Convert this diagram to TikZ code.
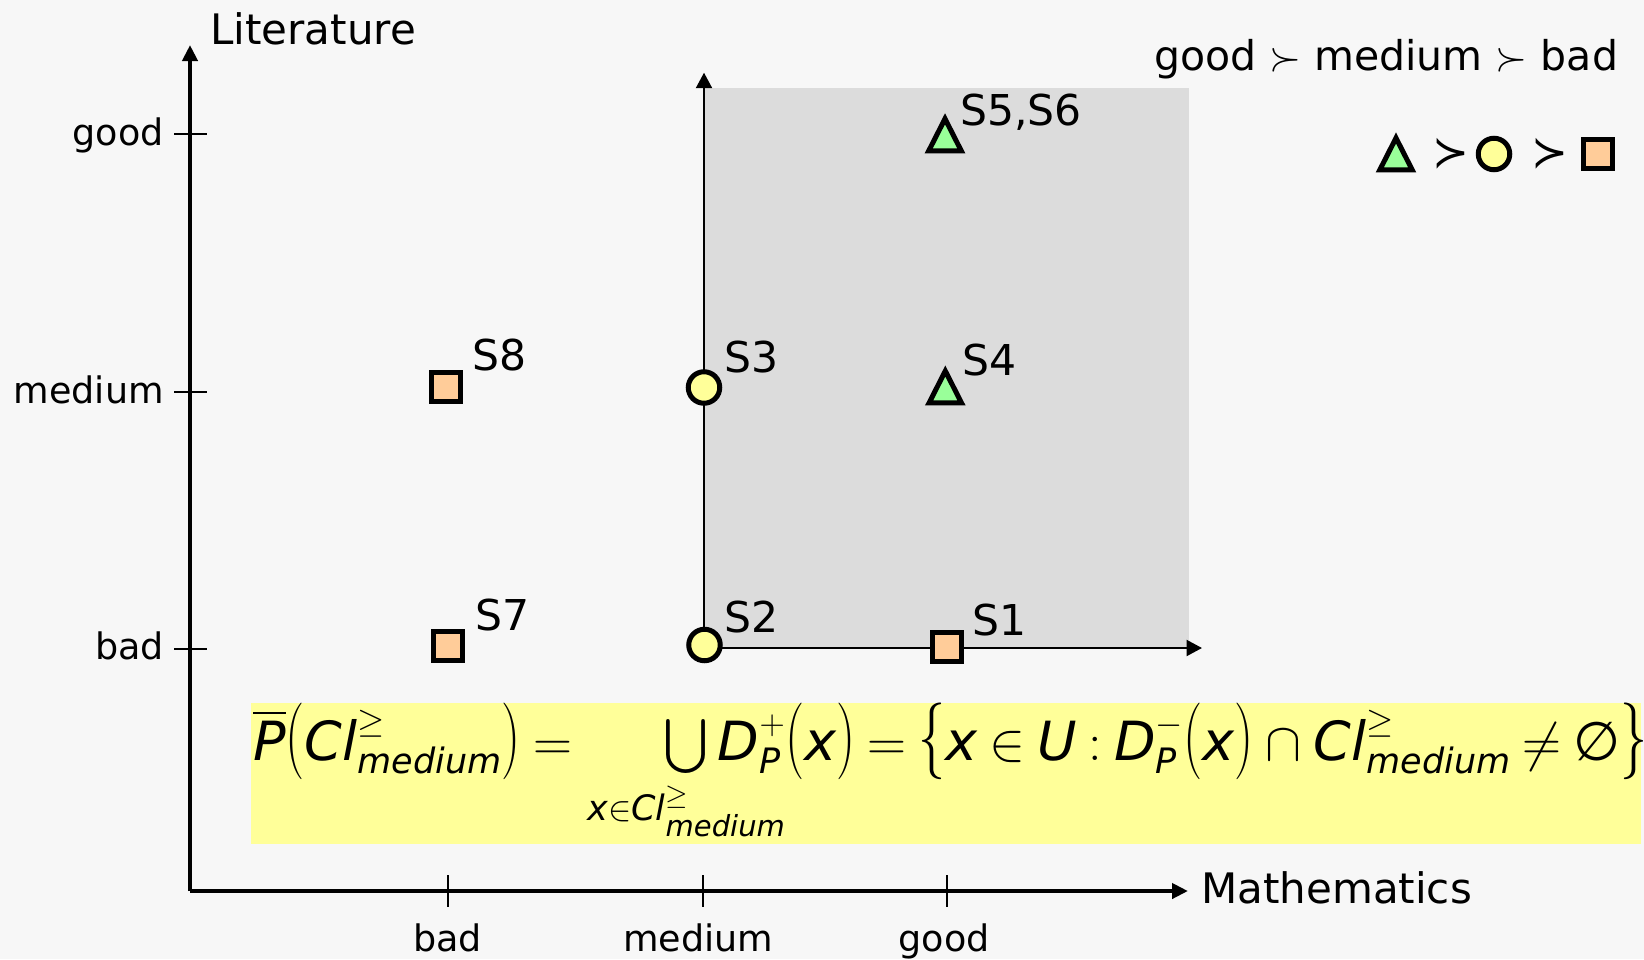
\RequirePackage{fix-cm}
\documentclass[tikz,border=0pt]{standalone}
\usepackage{amsmath}
\usepackage{graphicx}
\usepackage{fontspec}
\setmainfont{DejaVu Sans}
\usetikzlibrary{arrows.meta,shapes.geometric}
\DeclareFontShape{OMX}{cmex}{m}{n}{<->cmex10}{}
\DeclareMathSizes{54}{54}{35}{29}
\definecolor{bgC}{HTML}{F7F7F7}
\definecolor{grayC}{HTML}{DCDCDC}
\definecolor{boxC}{HTML}{FFFF99}
\definecolor{greenC}{HTML}{99FF99}
\definecolor{yellowC}{HTML}{FFFF99}
\definecolor{orangeC}{HTML}{FFCC99}
\newcommand{\myit}[1]{\text{\itshape #1}}
\newcommand{\tallp}[1]{\text{\scalebox{1}[1.42]{$#1$}}}
\tikzset{
  mainaxis/.style={line width=4pt, -{Triangle[length=16pt,width=15pt]}},
  inneraxis/.style={line width=2.2pt, -{Triangle[length=15.5pt,width=16pt]}},
  tickline/.style={line width=2pt},
  axlabel/.style={font=\fontsize{42}{50}\selectfont, inner sep=0},
  ticklabel/.style={font=\fontsize{36.5}{44}\selectfont, inner sep=0},
  ptlabel/.style={font=\fontsize{42.5}{50}\selectfont, inner sep=0, anchor=base west},
  sqm/.style={rectangle, draw, line width=5pt, fill=orangeC, minimum size=29pt, inner sep=0},
  circm/.style={circle, draw, line width=5pt, fill=yellowC, minimum size=31.5pt, inner sep=0},
  trim/.style={isosceles triangle, isosceles triangle stretches, shape border rotate=90,
    draw, line width=5pt, line join=miter, fill=greenC, minimum width=32.5pt, minimum height=32pt, inner sep=0},
  succm/.style={inner sep=0, font=\fontsize{44}{52}\selectfont},
}
\begin{document}
\begin{tikzpicture}[x=1pt,y=-1pt]
\useasboundingbox (0,0) rectangle (1644,959);
\fill[bgC] (0,0) rectangle (1644,959);
% grey dominance region
\fill[grayC] (704,88) rectangle (1189,648);
% formula box
\fill[boxC] (251,703) rectangle (1641,844);
% main axes
\coordinate (O) at (190,891);
\coordinate (ytip) at (190,45);
\coordinate (xtip) at (1188,891);
\draw[mainaxis] (O) -- (ytip);
\draw[mainaxis] (O) -- (xtip);
% inner axes
\coordinate (iO) at (704,648);
\coordinate (iy) at (704,72.7);
\coordinate (ix) at (1202,648);
\draw[inneraxis] (iO) -- (iy);
\draw[inneraxis] (iO) -- (ix);
% y ticks
\foreach \nm/\yy in {yg/134, ym/392, yb/649}{
  \coordinate (\nm a) at (174,\yy);
  \coordinate (\nm b) at (207,\yy);
  \draw[tickline] (\nm a) -- (\nm b);
}
% x ticks
\foreach \nm/\xx in {xb/447.5, xm/702.5, xg/947}{
  \coordinate (\nm a) at (\xx,875);
  \coordinate (\nm b) at (\xx,907);
  \draw[tickline] (\nm a) -- (\nm b);
}
% tick labels
\node[ticklabel, anchor=base east] (lgood) at (164,145) {good};
\node[ticklabel, anchor=base east] (lmed) at (164,403) {medium};
\node[ticklabel, anchor=base east] (lbad) at (164,659) {bad};
\node[ticklabel, anchor=base] (mbad) at (447.5,951) {bad};
\node[ticklabel, anchor=base] (mmed) at (698,951) {medium};
\node[ticklabel, anchor=base] (mgood) at (944,951) {good};
% axis labels
\node[axlabel, anchor=base west] (litlab) at (210,44) {Literature};
\node[axlabel, anchor=base west] (mathlab) at (1201,903) {Mathematics};
% points
\node[trim] (s56) at (945,140.8) {};
\node[trim] (s4) at (945.3,393) {};
\node[sqm] (s1) at (947,647) {};
\node[circm] (s3) at (704,387.5) {};
\node[circm] (s2) at (704.5,645) {};
\node[sqm] (s8) at (446.3,386.7) {};
\node[sqm] (s7) at (448,646.3) {};
\node[ptlabel] (t56) at (960,125) {S5,S6};
\node[ptlabel] (t4) at (962,375) {S4};
\node[ptlabel] (t3) at (724.5,372) {S3};
\node[ptlabel] (t8) at (472.7,370) {S8};
\node[ptlabel] (t2) at (724.4,632.7) {S2};
\node[ptlabel] (t7) at (475.7,630) {S7};
\node[ptlabel] (t1) at (972,635) {S1};
% legend
\node[axlabel, font=\fontsize{41}{49}\selectfont, anchor=base west] (order) at (1154,70) {good $\succ$ medium $\succ$ bad};
\node[trim] (lt) at (1396,160) {};
\node[succm] (ls1) at (1451,154) {≻};
\node[circm] (lc) at (1494,154) {};
\node[succm] (ls2) at (1550,154) {≻};
\node[sqm] (lsq) at (1597.5,154) {};
% formula
\node[anchor=base west, inner sep=0, font=\fontsize{54}{65}\selectfont] (formula) at (253,760)
{\thickmuskip=4mu$\overline{\myit{P}}\tallp{(}\myit{Cl}^{\geq}_{\myit{medium}}\tallp{)} =\hspace{80pt} \bigcup\limits_{\makebox[0pt]{$\scriptstyle\rule{0pt}{38pt}\myit{x}\in\myit{Cl}^{\geq}_{\myit{medium}}$}}\myit{D}^{+}_{\myit{P}}\tallp{(}\myit{x}\tallp{)} = \tallp{\{}\myit{x}\in\myit{U}:\myit{D}^{-}_{\myit{P}}\tallp{(}\myit{x}\tallp{)}\cap\myit{Cl}^{\geq}_{\myit{medium}}\neq\myit{∅}\tallp{\}}$};
\end{tikzpicture}
\end{document}
